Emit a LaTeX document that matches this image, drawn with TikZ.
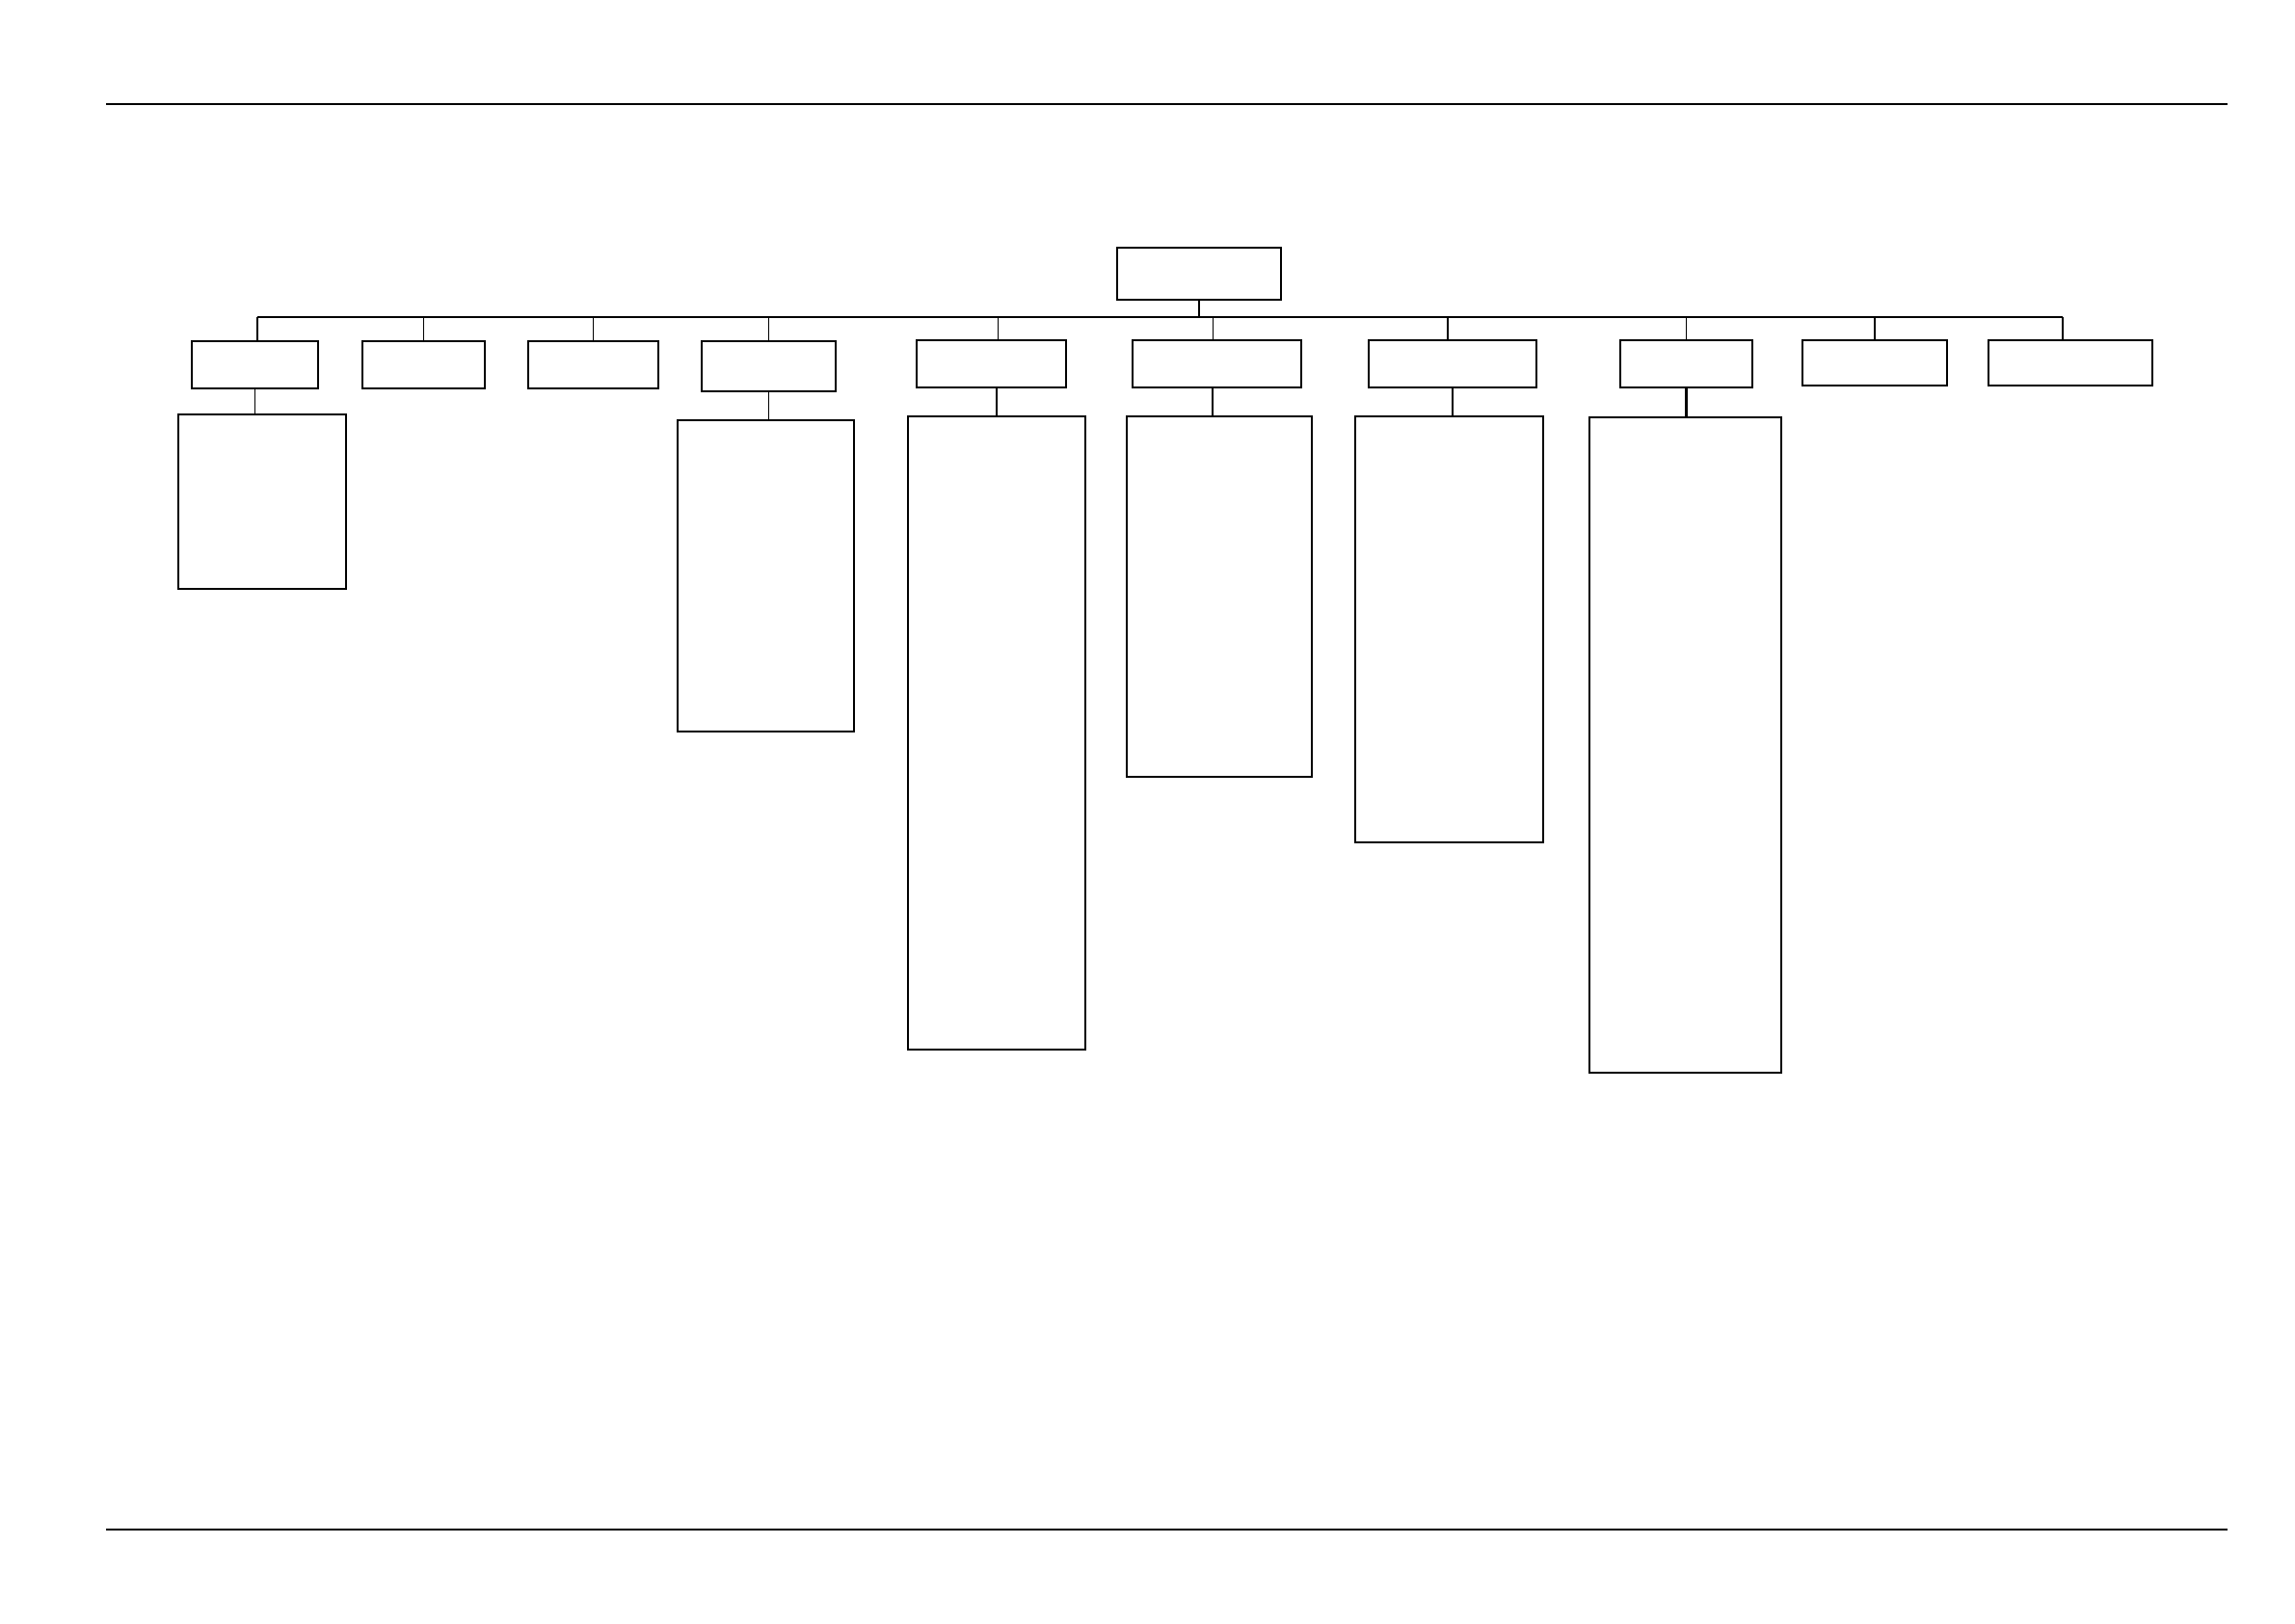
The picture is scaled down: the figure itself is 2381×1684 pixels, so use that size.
\documentclass[tikz,border=0pt]{standalone}
\usetikzlibrary{fit}
\begin{document}
\begin{tikzpicture}[x=0.3536pt,y=-0.3536pt,
  thinbox/.style={draw=black,line width=0.42pt,inner sep=0pt,outer sep=0pt,rectangle},
  boldbox/.style={draw=black,line width=0.72pt,inner sep=0pt,outer sep=0pt,rectangle},
  wire/.style={draw=black,line width=0.5pt},
  boldwire/.style={draw=black,line width=0.8pt},
  rule/.style={draw=black,line width=0.42pt},
  boldrule/.style={draw=black,line width=0.72pt}]
\useasboundingbox[fill=white] (0,0) rectangle (2381,1684);
% header / footer rules
\coordinate (topL) at (110,108);
\coordinate (topR) at (2311,108);
\coordinate (botL) at (110,1587);
\coordinate (botR) at (2311,1587);
\draw[rule] (topL) -- (topR);
\draw[boldrule] (botL) -- (botR);
% root
\node[boldbox,fit={(1159,257)(1329,311)}] (root) {};
% level 1
\node[thinbox,fit={(199,354)(330,403)}] (c1) {};
\node[thinbox,fit={(376,354)(503,403)}] (c2) {};
\node[thinbox,fit={(548,354)(683,403)}] (c3) {};
\node[thinbox,fit={(728,354)(867,406)}] (c4) {};
\node[boldbox,fit={(951,353)(1106,402)}] (c5) {};
\node[boldbox,fit={(1175,353)(1350,402)}] (c6) {};
\node[boldbox,fit={(1420,353)(1594,402)}] (c7) {};
\node[boldbox,fit={(1681,353)(1818,402)}] (c8) {};
\node[boldbox,fit={(1870,353)(2020,400)}] (c9) {};
\node[boldbox,fit={(2063,353)(2233,400)}] (c10) {};
% level 2
\node[boldbox,fit={(185,430)(359,611)}] (d1) {};
\node[boldbox,fit={(703,436)(886,759)}] (d4) {};
\node[boldbox,fit={(942,432)(1126,1089)}] (d5) {};
\node[thinbox,fit={(1169,432)(1361,806)}] (d6) {};
\node[boldbox,fit={(1406,432)(1601,874)}] (d7) {};
\node[thinbox,fit={(1649,433)(1848,1113)}] (d8) {};
% bus
\coordinate (bus) at (1242,329);
\coordinate (busL) at (267,329);
\coordinate (busR) at (2140,329);
\draw[rule] (busL) -- (busR);
\draw[boldwire] (root.south) -- (root.south |- bus);
\draw[wire] (busL) -- (busL |- c1.north);
\draw[wire] (c2.north) -- (c2.north |- bus);
\draw[wire] (c3.north) -- (c3.north |- bus);
\draw[wire] (c4.north) -- (c4.north |- bus);
\draw[wire] ([xshift=2.5pt]c5.north) -- ([xshift=2.5pt]c5.north |- bus);
\draw[wire] ([xshift=-1.5pt]c6.north) -- ([xshift=-1.5pt]c6.north |- bus);
\draw[wire] ([xshift=-1.8pt]c7.north) -- ([xshift=-1.8pt]c7.north |- bus);
\draw[wire] (c8.north) -- (c8.north |- bus);
\draw[wire] (c9.north) -- (c9.north |- bus);
\draw[wire] (busR) -- (busR |- c10.north);
% detail stems
\draw[wire] (c1.south) -- (d1.north -| c1.south);
\draw[wire] (c4.south) -- (d4.north -| c4.south);
\draw[boldwire] ([xshift=2pt]c5.south) -- ([xshift=2pt]c5.south |- d5.north);
\draw[boldwire] ([xshift=-1.5pt]c6.south) -- ([xshift=-1.5pt]c6.south |- d6.north);
\draw[boldwire] (c7.south) -- (d7.north -| c7.south);
\draw[boldwire] (c8.south) -- (d8.north -| c8.south);
\end{tikzpicture}
\end{document}
